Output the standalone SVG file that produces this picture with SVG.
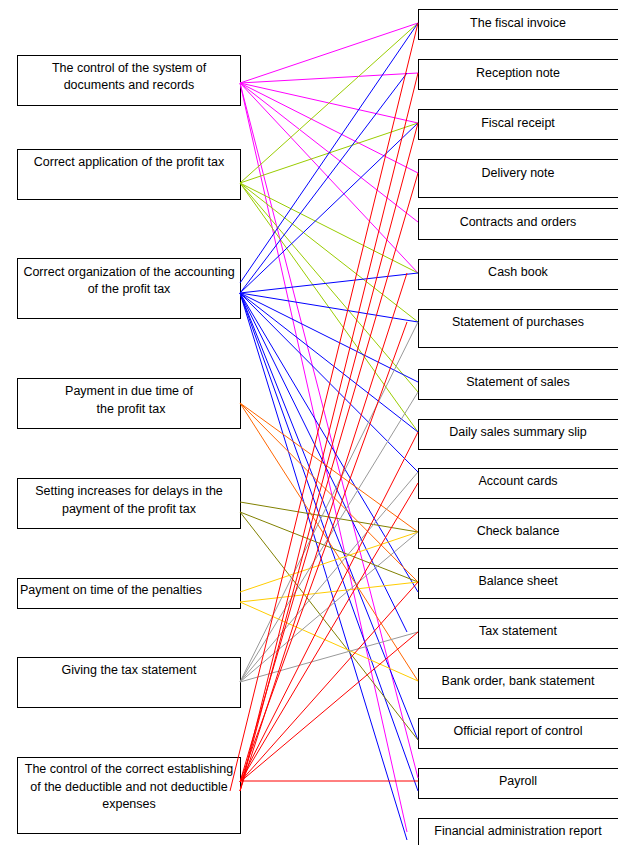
<svg xmlns="http://www.w3.org/2000/svg" width="618" height="845" viewBox="0 0 618 845">
<style>
.box{fill:#fff;stroke:#000;stroke-width:1}
text{font-family:"Liberation Sans",Arial,sans-serif;font-size:12.5px;fill:#000}
.l{text-anchor:middle}
.c line{stroke-width:1;fill:none}
.m{stroke:#FF00FF}.g{stroke:#99CC00}.b{stroke:#0000FF}.o{stroke:#FF6600}.v{stroke:#808000}.y{stroke:#FFCC00}.s{stroke:#999999}.r{stroke:#FF0000}
</style>
<rect width="618" height="845" fill="#fff"/>
<g id="left1"><rect class="box" x="17.5" y="55.5" width="223" height="50"/><text class="l" x="129" y="72">The control of the system of</text><text class="l" x="129" y="89">documents and records</text></g>
<g id="left2"><rect class="box" x="17.5" y="149.5" width="223" height="50"/><text class="l" x="129" y="166">Correct application of the profit tax</text></g>
<g id="left3"><rect class="box" x="17.5" y="258.5" width="223" height="60"/><text class="l" x="129" y="276">Correct organization of the accounting</text><text class="l" x="129" y="293">of the profit tax</text></g>
<g id="left4"><rect class="box" x="17.5" y="378.5" width="223" height="50"/><text class="l" x="129" y="395">Payment in due time of</text><text class="l" x="131" y="413">the profit tax</text></g>
<g id="left5"><rect class="box" x="17.5" y="478.5" width="223" height="50"/><text class="l" x="129" y="495">Setting increases for delays in the</text><text class="l" x="129" y="513">payment of the profit tax</text></g>
<g id="left6"><rect class="box" x="17.5" y="578.5" width="223" height="30"/><text x="20" y="594">Payment on time of the penalties</text></g>
<g id="left7"><rect class="box" x="17.5" y="657.5" width="223" height="50"/><text class="l" x="129" y="674">Giving the tax statement</text></g>
<g id="left8"><rect class="box" x="17.5" y="757.5" width="223" height="76"/><text class="l" x="129" y="773">The control of the correct establishing</text><text class="l" x="129" y="791">of the deductible and not deductible</text><text class="l" x="129" y="808">expenses</text></g>
<g id="r1"><rect class="box" x="418.5" y="9.5" width="202" height="30"/><text class="l" x="518" y="27">The fiscal invoice</text></g>
<g id="r2"><rect class="box" x="418.5" y="59.5" width="202" height="30"/><text class="l" x="518" y="77">Reception note</text></g>
<g id="r3"><rect class="box" x="418.5" y="109.5" width="202" height="30"/><text class="l" x="518" y="127">Fiscal receipt</text></g>
<g id="r4"><rect class="box" x="418.5" y="159.5" width="202" height="38"/><text class="l" x="518" y="177">Delivery note</text></g>
<g id="r5"><rect class="box" x="418.5" y="208.5" width="202" height="31"/><text class="l" x="518" y="226">Contracts and orders</text></g>
<g id="r6"><rect class="box" x="418.5" y="259.5" width="202" height="30"/><text class="l" x="518" y="276">Cash book</text></g>
<g id="r7"><rect class="box" x="418.5" y="309.5" width="202" height="38"/><text class="l" x="518" y="326">Statement of purchases</text></g>
<g id="r8"><rect class="box" x="418.5" y="369.5" width="202" height="30"/><text class="l" x="518" y="386">Statement of sales</text></g>
<g id="r9"><rect class="box" x="418.5" y="419.5" width="202" height="30"/><text class="l" x="518" y="436">Daily sales summary slip</text></g>
<g id="r10"><rect class="box" x="418.5" y="468.5" width="202" height="30"/><text class="l" x="518" y="485">Account cards</text></g>
<g id="r11"><rect class="box" x="418.5" y="518.5" width="202" height="30"/><text class="l" x="518" y="535">Check balance</text></g>
<g id="r12"><rect class="box" x="418.5" y="568.5" width="202" height="30"/><text class="l" x="518" y="585">Balance sheet</text></g>
<g id="r13"><rect class="box" x="418.5" y="618.5" width="202" height="30"/><text class="l" x="518" y="635">Tax statement</text></g>
<g id="r14"><rect class="box" x="418.5" y="668.5" width="202" height="30"/><text class="l" x="518" y="685">Bank order, bank statement</text></g>
<g id="r15"><rect class="box" x="418.5" y="718.5" width="202" height="30"/><text class="l" x="518" y="735">Official report of control</text></g>
<g id="r16"><rect class="box" x="418.5" y="768.5" width="202" height="30"/><text class="l" x="518" y="785">Payroll</text></g>
<g id="r17"><rect class="box" x="418.5" y="818.5" width="202" height="40"/><text class="l" x="518" y="835">Financial administration report</text></g>
<g id="connectors" class="c">
<line class="m" x1="240" y1="83" x2="418" y2="23"/>
<line class="m" x1="240" y1="83" x2="418" y2="73"/>
<line class="m" x1="240" y1="83" x2="418" y2="123"/>
<line class="m" x1="240" y1="83" x2="418" y2="173"/>
<line class="m" x1="240" y1="83" x2="418" y2="222"/>
<line class="m" x1="240" y1="83" x2="418" y2="273"/>
<line class="m" x1="240" y1="83" x2="418" y2="778"/>
<line class="m" x1="240" y1="83" x2="407" y2="832"/>
<line class="g" x1="240" y1="183" x2="418" y2="23"/>
<line class="g" x1="240" y1="183" x2="418" y2="123"/>
<line class="g" x1="240" y1="183" x2="418" y2="273"/>
<line class="g" x1="240" y1="183" x2="418" y2="322"/>
<line class="g" x1="240" y1="183" x2="418" y2="392"/>
<line class="g" x1="240" y1="183" x2="418" y2="432"/>
<line class="b" x1="240" y1="283" x2="418" y2="23"/>
<line class="b" x1="240" y1="293" x2="407" y2="73"/>
<line class="b" x1="240" y1="293" x2="418" y2="123"/>
<line class="b" x1="240" y1="293" x2="418" y2="273"/>
<line class="b" x1="240" y1="293" x2="418" y2="322"/>
<line class="b" x1="240" y1="293" x2="418" y2="382"/>
<line class="b" x1="240" y1="293" x2="418" y2="432"/>
<line class="b" x1="240" y1="293" x2="418" y2="472"/>
<line class="b" x1="240" y1="293" x2="418" y2="592"/>
<line class="b" x1="240" y1="293" x2="407" y2="632"/>
<line class="b" x1="240" y1="293" x2="418" y2="740"/>
<line class="b" x1="240" y1="293" x2="418" y2="791"/>
<line class="b" x1="240" y1="293" x2="407" y2="840"/>
<line class="o" x1="240" y1="403" x2="418" y2="532"/>
<line class="o" x1="240" y1="403" x2="418" y2="582"/>
<line class="o" x1="240" y1="403" x2="418" y2="681"/>
<line class="v" x1="240" y1="502" x2="418" y2="532"/>
<line class="v" x1="240" y1="512" x2="418" y2="582"/>
<line class="v" x1="240" y1="512" x2="418" y2="740"/>
<line class="y" x1="240" y1="592" x2="418" y2="532"/>
<line class="y" x1="240" y1="602" x2="418" y2="582"/>
<line class="y" x1="240" y1="602" x2="418" y2="681"/>
<line class="s" x1="240" y1="682" x2="418" y2="322"/>
<line class="s" x1="240" y1="682" x2="418" y2="392"/>
<line class="s" x1="240" y1="682" x2="418" y2="472"/>
<line class="s" x1="240" y1="682" x2="418" y2="532"/>
<line class="s" x1="240" y1="682" x2="418" y2="632"/>
<line class="r" x1="230" y1="791" x2="418" y2="23"/>
<line class="r" x1="240" y1="791" x2="418" y2="73"/>
<line class="r" x1="240" y1="791" x2="418" y2="123"/>
<line class="r" x1="240" y1="782" x2="418" y2="173"/>
<line class="r" x1="240" y1="791" x2="407" y2="273"/>
<line class="r" x1="240" y1="782" x2="407" y2="322"/>
<line class="r" x1="240" y1="782" x2="418" y2="432"/>
<line class="r" x1="240" y1="782" x2="418" y2="483"/>
<line class="r" x1="240" y1="782" x2="418" y2="582"/>
<line class="r" x1="240" y1="782" x2="418" y2="632"/>
<line class="r" x1="240" y1="781" x2="418" y2="781"/>
</g>
</svg>
